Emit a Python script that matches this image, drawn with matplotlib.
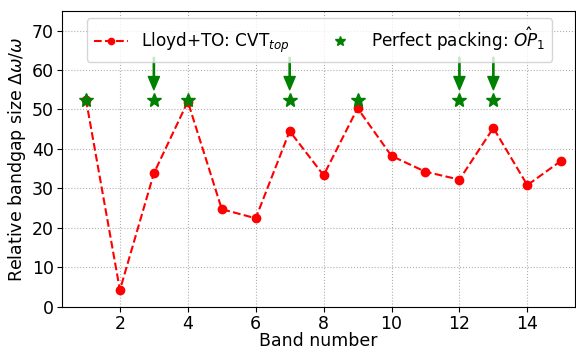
import matplotlib
matplotlib.use('Agg')
from matplotlib import pyplot as plt

bands = list(range(1, 16))
cvt_top = [52.5, 4.2, 33.8, 52.0, 24.7, 22.4, 44.5, 33.3, 50.3, 38.2, 34.2, 32.2, 45.3, 30.8, 37.0]
packing_bands = [1, 3, 4, 7, 9, 12, 13]
packing_vals = [52.5] * len(packing_bands)
arrow_bands = [3, 7, 12, 13]
arrow_top, arrow_tip = 63.2, 55.0

fig, ax = plt.subplots(figsize=(5.76, 3.5), dpi=100)
fig.subplots_adjust(left=0.108, right=0.998, top=0.969, bottom=0.124)

ax.plot(bands, cvt_top, 'r--o', markersize=6, linewidth=1.5, label='Lloyd+TO: CVT$_{top}$')
ax.plot(packing_bands, packing_vals, '*', color='green', markersize=10, linestyle='none',
        label='Perfect packing: $\\hat{OP}_1$')
for b in arrow_bands:
    ax.annotate('', xy=(b, arrow_tip), xytext=(b, arrow_top),
                arrowprops=dict(color='green', width=0.9, headwidth=8, headlength=9.5, shrink=0))

ax.set_xlim(0.3, 15.4)
ax.set_ylim(0, 75)
ax.set_yticks(range(0, 80, 10))
ax.set_xticks(range(2, 16, 2))
ax.tick_params(labelsize=12.5, pad=2.5)
ax.grid(True, linestyle=':', color='#b0b0b0')
ax.set_xlabel('Band number', fontsize=12.5, labelpad=-1)
ax.set_ylabel('Relative bandgap size $\\Delta\\omega/\\omega$', fontsize=12.5, labelpad=3)
ax.legend(loc='upper center', ncol=2, fontsize=12.2, markerscale=0.75,
          borderaxespad=0.45, bbox_to_anchor=(0.502, 1))

fig.savefig('out.png', dpi=100)
